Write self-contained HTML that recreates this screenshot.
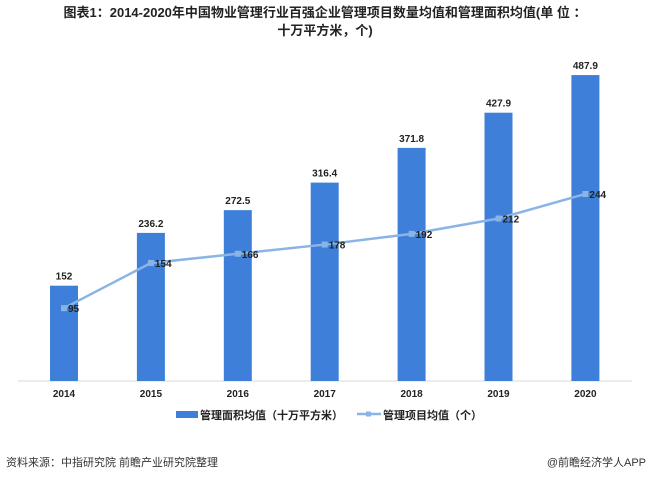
<!DOCTYPE html>
<html><head><meta charset="utf-8"><style>
body{margin:0;background:#fff;}
svg text{font-family:"Liberation Sans","Noto Sans CJK SC",sans-serif;}
</style></head><body>
<svg width="650" height="481" viewBox="0 0 650 481" xmlns="http://www.w3.org/2000/svg">
<text x="325" y="17" text-anchor="middle" font-size="13" font-weight="bold" fill="#222">图表1：2014-2020年中国物业管理行业百强企业管理项目数量均值和管理面积均值(单 位 ：</text>
<text x="325" y="35" text-anchor="middle" font-size="13" font-weight="bold" fill="#222">十万平方米，个)</text>
<line x1="18" y1="381" x2="632" y2="381" stroke="#d9d9d9"/>
<g id="bars"></g><g id="line"></g><g id="xlabels"></g>
<g>
<rect x="176" y="411" width="22" height="7" fill="#3d7fd9"/>
<text x="200" y="419" font-size="11" font-weight="bold" fill="#222">管理面积均值（十万平方米）</text>
<line x1="357" y1="414" x2="381" y2="414" stroke="#8ab4e6" stroke-width="2.5"/>
<rect x="366" y="411.5" width="5" height="5" fill="#8ab4e6"/>
<text x="383" y="419" font-size="11" font-weight="bold" fill="#222">管理项目均值（个）</text>
</g>
<text x="6" y="466" font-size="11" fill="#333">资料来源：中指研究院 前瞻产业研究院整理</text>
<text x="646" y="466" text-anchor="end" font-size="11" fill="#333">@前瞻经济学人APP</text>
</svg>
<script>
const years=["2014","2015","2016","2017","2018","2019","2020"];
const areaValues=[152,236.2,272.5,316.4,371.8,427.9,487.9];
const projectValues=[95,154,166,178,192,212,244];
const NS="http://www.w3.org/2000/svg";
const base=381;
function xPos(i){return 64+i*86.9;}
function yArea(v){return base-v*0.627;}
function yProj(v){return base-v*0.7665;}
function mk(tag,attrs,parent,text){const e=document.createElementNS(NS,tag);for(const k in attrs)e.setAttribute(k,attrs[k]);if(text!==undefined)e.textContent=text;document.getElementById(parent).appendChild(e);return e;}
areaValues.forEach((v,i)=>{
 const r=mk('rect',{x:xPos(i)-14,y:yArea(v),width:28,height:base-yArea(v),fill:'#3d7fd9'},'bars');
 
 
 const t=mk('text',{x:xPos(i),y:yArea(v)-6,'text-anchor':'middle','font-size':'10','font-weight':'bold',fill:'#222'},'bars',String(v));
 
 
 const xl=mk('text',{x:xPos(i),y:base+16,'text-anchor':'middle','font-size':'10','font-weight':'bold',fill:'#222'},'xlabels',years[i]);
 
 
});
let d='';
projectValues.forEach((v,i)=>{d+=(i?' L':'M')+xPos(i)+' '+yProj(v);});
const p=mk('path',{d:d,fill:'none',stroke:'#8ab4e6','stroke-width':'2.5'},'line');


projectValues.forEach((v,i)=>{
 const m=mk('rect',{x:xPos(i)-3,y:yProj(v)-3,width:6,height:6,fill:'#8ab4e6'},'line');
 
 
 const t=mk('text',{x:xPos(i)+4,y:yProj(v)+4,'font-size':'10','font-weight':'bold',fill:'#222'},'line',String(v));
 
 
});
</script>
</body></html>
